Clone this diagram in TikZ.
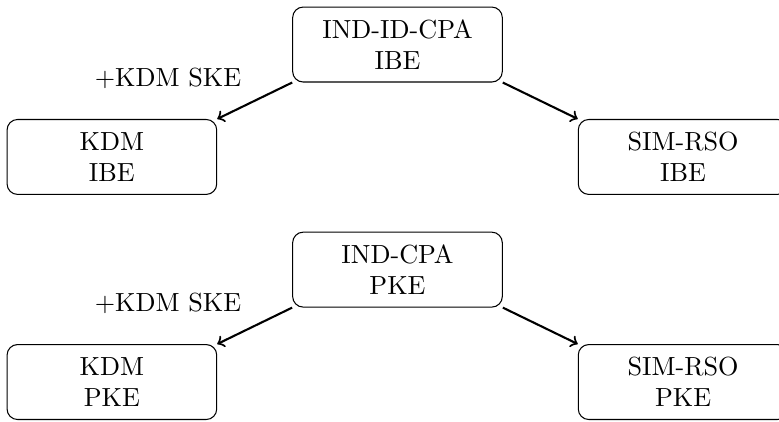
\documentclass[tikz,border=0pt]{standalone}
\usetikzlibrary{positioning}
\tikzset{
    scheme/.style={draw, rounded corners, align=center, minimum width=80pt, minimum height=28.6pt}, % Boxes for the schemes
}
\begin{document}
\begin{tikzpicture}[
    node distance=42.9pt and 109pt,
    on grid,
    >=to
]
    \useasboundingbox (0,0) rectangle (297.3pt,-160.7pt);

    % --- Identity-based row ---
    \node[scheme] (cpaibe) at (151.7pt,-17pt) {IND-ID-CPA\\IBE};
    \node[scheme] (kdmibe) [below left=of cpaibe] {KDM\\IBE};
    \node[scheme] (rsoibe) [below right=of cpaibe] {SIM-RSO\\IBE};

    % --- Public-key row ---
    \node[scheme] (cpapke) at (151.7pt,-102.9pt) {IND-CPA\\PKE};
    \node[scheme] (kdmpke) [below left=of cpapke] {KDM\\PKE};
    \node[scheme] (rsopke) [below right=of cpapke] {SIM-RSO\\PKE};

    % --- Implications ---
    \path[->, thick]
        (cpaibe.south west) edge node[above left, pos=0.55, yshift=1.5pt] {+KDM SKE} (kdmibe.north east)
        (cpaibe.south east) edge (rsoibe.north west)
        (cpapke.south west) edge node[above left, pos=0.55, yshift=1.5pt] {+KDM SKE} (kdmpke.north east)
        (cpapke.south east) edge (rsopke.north west);

\end{tikzpicture}
\end{document}
